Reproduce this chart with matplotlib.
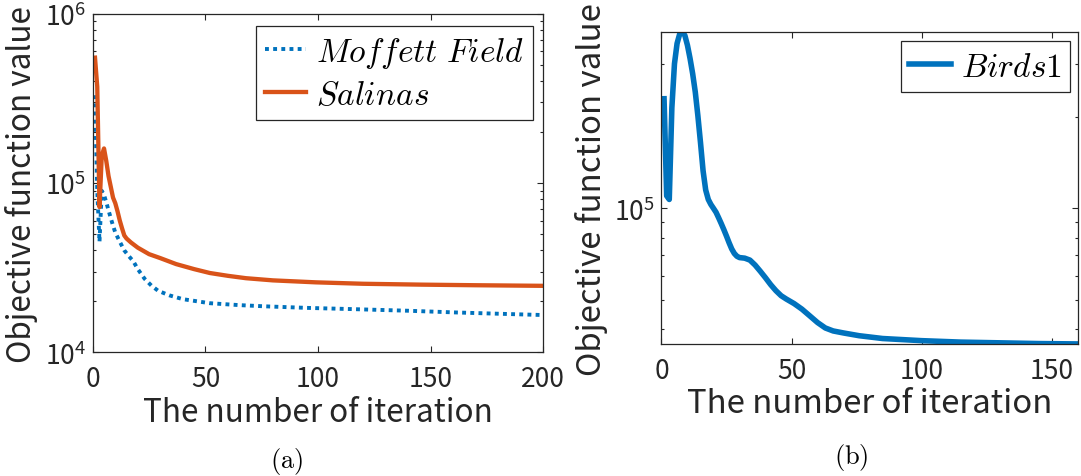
import math
import matplotlib
matplotlib.use('Agg')
import matplotlib.pyplot as plt
from matplotlib.ticker import LogLocator, FuncFormatter, NullFormatter

plt.rcParams['font.family'] = ['Noto Sans CJK JP', 'DejaVu Sans']
plt.rcParams['mathtext.fontset'] = 'cm'

# (a) Moffett Field / Salinas
moffett_it = [1, 2, 3, 4, 5, 6, 7, 8, 9, 10, 12, 14, 16, 18, 20, 23, 26, 29,
              34, 40, 52, 65, 76, 95, 115, 140, 161, 180, 200]
moffett_val = [3.3e5, 9.0e4, 4.5e4, 9.0e4, 8.5e4, 7.7e4, 6.9e4, 6.2e4, 5.6e4,
               5.1e4, 4.5e4, 4.0e4, 3.7e4, 3.45e4, 3.1e4, 2.72e4, 2.48e4,
               2.31e4, 2.17e4, 2.06e4, 1.95e4, 1.9e4, 1.87e4, 1.83e4, 1.8e4,
               1.76e4, 1.72e4, 1.69e4, 1.66e4]

salinas_it = [1, 2, 3, 4, 5, 6, 7, 8, 9, 10, 11, 12, 13, 14, 15, 17, 20, 25,
              30, 37, 45, 52, 60, 68, 80, 99, 120, 146, 170, 200]
salinas_val = [5.5e5, 3.7e5, 7.2e4, 1.45e5, 1.6e5, 1.35e5, 1.1e5, 9.5e4,
               8.2e4, 7.6e4, 6.8e4, 6.0e4, 5.4e4, 4.9e4, 4.7e4, 4.45e4, 4.15e4,
               3.8e4, 3.6e4, 3.32e4, 3.1e4, 2.94e4, 2.83e4, 2.74e4, 2.66e4,
               2.59e4, 2.54e4, 2.51e4, 2.49e4, 2.47e4]

# (b) Birds1
birds_it = [1, 2, 3, 4, 5, 6, 7, 8, 9, 10, 11, 12, 13, 14, 15, 16, 17, 18,
            19, 20, 21, 22, 23, 24, 25, 26, 27, 28, 29, 30, 32, 34, 36, 38,
            40, 42, 44, 46, 48, 51, 54, 57, 60, 63, 66, 70, 76, 85, 100, 115,
            130, 145, 160]
birds_val = [2.3e5, 1.1e5, 1.07e5, 2.15e5, 3.0e5, 3.5e5, 3.76e5, 3.82e5,
             3.72e5, 3.45e5, 3.12e5, 2.78e5, 2.42e5, 2.02e5, 1.65e5, 1.33e5,
             1.15e5, 1.07e5, 1.03e5, 1.0e5, 9.7e4, 9.3e4, 8.9e4, 8.5e4,
             8.1e4, 7.7e4, 7.35e4, 7.1e4, 6.95e4, 6.88e4, 6.85e4, 6.75e4,
             6.5e4, 6.2e4, 5.9e4, 5.6e4, 5.35e4, 5.15e4, 5.02e4, 4.85e4,
             4.65e4, 4.42e4, 4.2e4, 4.03e4, 3.94e4, 3.88e4, 3.8e4, 3.72e4,
             3.66e4, 3.62e4, 3.6e4, 3.58e4, 3.57e4]

BLUE = '#0072BD'
ORANGE = '#D95319'
AXC = '#262626'


def sci(v, pos):
    e = int(round(math.log10(v)))
    return r'$\mathregular{10^{%d}}$' % e


def style(ax, label_size):
    for s in ax.spines.values():
        s.set_color(AXC)
        s.set_linewidth(0.9)
    ax.set_yscale('log')
    ax.yaxis.set_major_locator(LogLocator(base=10))
    ax.yaxis.set_minor_locator(LogLocator(base=10, subs=range(2, 10)))
    ax.yaxis.set_major_formatter(FuncFormatter(sci))
    ax.yaxis.set_minor_formatter(NullFormatter())
    ax.tick_params(which='both', direction='in', top=True, right=True,
                   colors=AXC, width=0.8)
    ax.tick_params(which='major', length=4, labelsize=19)
    ax.tick_params(which='minor', length=2.5)
    ax.tick_params(axis='x', pad=9)
    ax.tick_params(axis='y', pad=5)
    ax.set_xlabel('The number of iteration', fontsize=label_size, color=AXC)
    ax.set_ylabel('Objective function value', fontsize=label_size, color=AXC)
    ax.xaxis.label.set_va('baseline')


fig = plt.figure(figsize=(10.81, 4.77), dpi=100)

ax1 = fig.add_axes([0.0858, 0.2593, 0.4168, 0.7099])
ax1.plot(moffett_it, moffett_val, color=BLUE, lw=2.8, dashes=(1.0, 1.1),
         label=r'$Moffett\ Field$')
ax1.plot(salinas_it, salinas_val, color=ORANGE, lw=3.1, label=r'$Salinas$')
ax1.set_xlim(0, 200)
ax1.set_ylim(1e4, 1e6)
ax1.set_xticks([0, 50, 100, 150, 200])
style(ax1, 22.7)
ax1.xaxis.set_label_coords(0.5, -0.203)
ax1.yaxis.set_label_coords(-0.122, 0.5)
leg1 = ax1.legend(loc='upper right', bbox_to_anchor=(0.9763, 0.9646),
                  borderaxespad=0, fontsize=24, fancybox=False,
                  edgecolor=AXC, framealpha=1, handlelength=1.25,
                  handletextpad=0.3, borderpad=0.25, labelspacing=0.2)
leg1.get_frame().set_linewidth(0.9)

ax2 = fig.add_axes([0.6119, 0.2761, 0.3850, 0.6541])
ax2.plot(birds_it, birds_val, color=BLUE, lw=4, label=r'$Birds1$')
ax2.set_xlim(0, 160)
ax2.set_ylim(3.56e4, 3.81e5)
ax2.set_xticks([0, 50, 100, 150])
style(ax2, 23.7)
ax2.xaxis.set_label_coords(0.5, -0.217)
ax2.yaxis.set_label_coords(-0.1295, 0.5)
leg2 = ax2.legend(loc='upper right', bbox_to_anchor=(0.9822, 0.9731),
                  borderaxespad=0, fontsize=24, fancybox=False,
                  edgecolor=AXC, framealpha=1, handlelength=1.25,
                  handletextpad=0.3, borderpad=0.25)
leg2.get_frame().set_linewidth(0.9)

fig.text(0.2655, 0.0335, r'$\mathrm{(a)}$', fontsize=19, ha='center',
         va='center')
fig.text(0.7877, 0.041, r'$\mathrm{(b)}$', fontsize=19, ha='center',
         va='center')

fig.savefig('out.png', dpi=100)
